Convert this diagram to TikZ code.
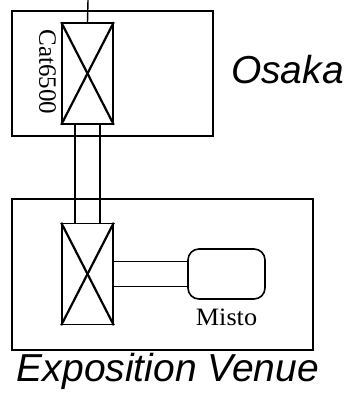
\documentclass[tikz,border=0pt]{standalone}
\usepackage{fontspec}
\setmainfont{Liberation Serif}
\setsansfont{Liberation Sans}
\usetikzlibrary{positioning}

\tikzset{
    switchbox/.style={draw, line width=1.6pt, minimum width=51pt, minimum height=101pt, inner sep=0pt},
    hostbox/.style={draw, line width=1.6pt, rounded corners=11pt, minimum width=77pt, minimum height=50pt, inner sep=0pt},
    site/.style={font=\sffamily\itshape\fontsize{39}{39}\selectfont},
    devlabel/.style={font=\fontsize{25}{25}\selectfont, inner sep=0pt},
}

\begin{document}
\begin{tikzpicture}[x=1pt,y=-1pt]
    \useasboundingbox (0,0) rectangle (348,393);
    \draw[line width=1.4pt] (12,11) rectangle (213,136);
    \draw[line width=1.4pt] (12,199) rectangle (313,350);
    \node[switchbox] (cat) at (87.5,73.5) {};
    \node[switchbox] (venuesw) at (87.5,274) {};
    \node[hostbox] (misto) at (226.5,274) {};
    \draw[line width=2.2pt] (cat.north west) -- (cat.south east);
    \draw[line width=2.2pt] (cat.north east) -- (cat.south west);
    \draw[line width=2.2pt] (venuesw.north west) -- (venuesw.south east);
    \draw[line width=2.2pt] (venuesw.north east) -- (venuesw.south west);
    \coordinate (uplink) at (88,0);
    \draw[line width=1.4pt] (uplink) -- (cat.north);
    \draw[line width=1.4pt] ([xshift=-12.5pt]cat.south) -- ([xshift=-12.5pt]venuesw.north);
    \draw[line width=1.4pt] ([xshift=12.5pt]cat.south) -- ([xshift=12.5pt]venuesw.north);
    \draw[line width=1.4pt] ([yshift=12.5pt]venuesw.east) -- ([yshift=12.5pt]misto.west);
    \draw[line width=1.4pt] ([yshift=-12.5pt]venuesw.east) -- ([yshift=-12.5pt]misto.west);
    \node[devlabel, rotate=-90] (catlabel) at (47.5,72) {Cat6500};
    \node[devlabel, below=9pt of misto, xscale=1.05] (mistolabel) {Misto};
    \node[site] (osaka) at (287.5,70) {Osaka};
    \node[site] (venue) at (168,371) {Exposition Venue};
\end{tikzpicture}
\end{document}
